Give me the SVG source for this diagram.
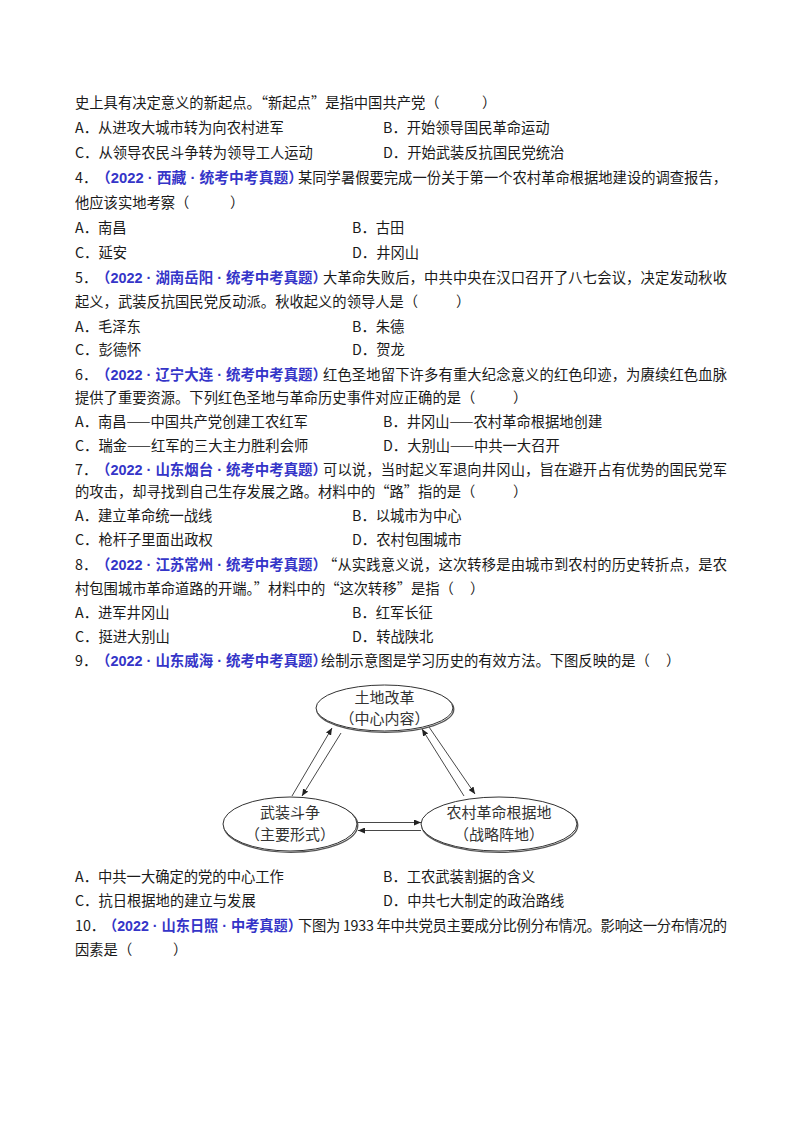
<svg xmlns="http://www.w3.org/2000/svg" width="800" height="1132" viewBox="0 0 800 1132">
<style>
.t{font-family:"Noto Sans CJK SC","Liberation Sans",sans-serif;font-size:14.3px;fill:#1a1a1a}
.b{font-family:"Liberation Sans","Noto Sans CJK SC",sans-serif;font-size:14.3px;font-weight:bold;fill:#3535c8}
.n{fill:#fff;stroke:#333;stroke-width:1}
.s{fill:none;stroke:#555;stroke-width:1.3}
.nt{font-family:"Noto Sans CJK SC",sans-serif;font-size:15px;fill:#333;text-anchor:middle}
.c{stroke:#333;stroke-width:0.9;fill:none;marker-end:url(#ah)}
</style>
<defs>
<marker id="ah" markerUnits="userSpaceOnUse" markerWidth="7" markerHeight="6" refX="7" refY="3" orient="auto">
<path d="M0,0 L7,3 L0,6 z" fill="#222"/>
</marker>
</defs>
<rect width="800" height="1132" fill="#fff"/>
<g id="text">
<text class="t" x="75" y="108">史上具有决定意义的新起点。“新起点”是指中国共产党（</text><text class="t" x="482" y="108">）</text>
<text class="t" x="75" y="133">A．从进攻大城市转为向农村进军</text><text class="t" x="383" y="133">B．开始领导国民革命运动</text>
<text class="t" x="75" y="158">C．从领导农民斗争转为领导工人运动</text><text class="t" x="383" y="158">D．开始武装反抗国民党统治</text>
<text class="t" x="75" y="183">4．</text><text class="b" x="96" y="183" textLength="207" lengthAdjust="spacingAndGlyphs">（2022 · 西藏 · 统考中考真题）</text><text class="t" x="298" y="183" textLength="429" lengthAdjust="spacing">某同学暑假要完成一份关于第一个农村革命根据地建设的调查报告，</text>
<text class="t" x="75" y="208">他应该实地考察（</text><text class="t" x="230" y="208">）</text>
<text class="t" x="75" y="233">A．南昌</text><text class="t" x="352" y="233">B．古田</text>
<text class="t" x="75" y="258">C．延安</text><text class="t" x="352" y="258">D．井冈山</text>
<text class="t" x="75" y="283">5．</text><text class="b" x="96" y="283" textLength="231" lengthAdjust="spacingAndGlyphs">（2022 · 湖南岳阳 · 统考中考真题）</text><text class="t" x="323" y="283" textLength="404" lengthAdjust="spacing">大革命失败后，中共中央在汉口召开了八七会议，决定发动秋收</text>
<text class="t" x="75" y="307">起义，武装反抗国民党反动派。秋收起义的领导人是（</text><text class="t" x="456" y="307">）</text>
<text class="t" x="75" y="332">A．毛泽东</text><text class="t" x="352" y="332">B．朱德</text>
<text class="t" x="75" y="355">C．彭德怀</text><text class="t" x="352" y="355">D．贺龙</text>
<text class="t" x="75" y="380">6．</text><text class="b" x="96" y="380" textLength="231" lengthAdjust="spacingAndGlyphs">（2022 · 辽宁大连 · 统考中考真题）</text><text class="t" x="323" y="380" textLength="404" lengthAdjust="spacing">红色圣地留下许多有重大纪念意义的红色印迹，为赓续红色血脉</text>
<text class="t" x="75" y="403">提供了重要资源。下列红色圣地与革命历史事件对应正确的是（</text><text class="t" x="513" y="403">）</text>
<text class="t" x="75" y="427">A．南昌——中国共产党创建工农红军</text><text class="t" x="383" y="427">B．井冈山——农村革命根据地创建</text>
<text class="t" x="75" y="451">C．瑞金——红军的三大主力胜利会师</text><text class="t" x="383" y="451">D．大别山——中共一大召开</text>
<text class="t" x="75" y="475">7．</text><text class="b" x="96" y="475" textLength="231" lengthAdjust="spacingAndGlyphs">（2022 · 山东烟台 · 统考中考真题）</text><text class="t" x="323" y="475" textLength="404" lengthAdjust="spacing">可以说，当时起义军退向井冈山，旨在避开占有优势的国民党军</text>
<text class="t" x="75" y="497">的攻击，却寻找到自己生存发展之路。材料中的“路”指的是（</text><text class="t" x="513" y="497">）</text>
<text class="t" x="75" y="521">A．建立革命统一战线</text><text class="t" x="352" y="521">B．以城市为中心</text>
<text class="t" x="75" y="545">C．枪杆子里面出政权</text><text class="t" x="352" y="545">D．农村包围城市</text>
<text class="t" x="75" y="570">8．</text><text class="b" x="96" y="570" textLength="231" lengthAdjust="spacingAndGlyphs">（2022 · 江苏常州 · 统考中考真题）</text><text class="t" x="323" y="570" textLength="404" lengthAdjust="spacing">“从实践意义说，这次转移是由城市到农村的历史转折点，是农</text>
<text class="t" x="75" y="594">村包围城市革命道路的开端。”材料中的“这次转移”是指（</text><text class="t" x="470" y="594">）</text>
<text class="t" x="75" y="618">A．进军井冈山</text><text class="t" x="352" y="618">B．红军长征</text>
<text class="t" x="75" y="642">C．挺进大别山</text><text class="t" x="352" y="642">D．转战陕北</text>
<text class="t" x="75" y="666">9．</text><text class="b" x="96" y="666" textLength="231" lengthAdjust="spacingAndGlyphs">（2022 · 山东威海 · 统考中考真题）</text><text class="t" x="321" y="666">绘制示意图是学习历史的有效方法。下图反映的是（</text><text class="t" x="666" y="666">）</text>
<text class="t" x="75" y="882">A．中共一大确定的党的中心工作</text><text class="t" x="383" y="882">B．工农武装割据的含义</text>
<text class="t" x="75" y="906">C．抗日根据地的建立与发展</text><text class="t" x="383" y="906">D．中共七大制定的政治路线</text>
<text class="t" x="75" y="931">10．</text><text class="b" x="103" y="931" textLength="199" lengthAdjust="spacingAndGlyphs">（2022 · 山东日照 · 中考真题）</text><text class="t" x="298" y="931" textLength="429" lengthAdjust="spacing">下图为 1933 年中共党员主要成分比例分布情况。影响这一分布情况的</text>
<text class="t" x="75" y="955">因素是（</text><text class="t" x="173" y="955">）</text>
</g>
<g id="connectors">
<line class="c" x1="292" y1="796" x2="332" y2="728"/>
<line class="c" x1="341" y1="733" x2="302" y2="796"/>
<line class="c" x1="464" y1="796" x2="422" y2="729"/>
<line class="c" x1="429" y1="727" x2="475" y2="794"/>
<line class="c" x1="357" y1="822.5" x2="421" y2="822.5"/>
<line class="c" x1="421" y1="830.5" x2="358" y2="830.5"/>
</g>
<g id="node-land">
<ellipse class="s" cx="385.3" cy="709.3" rx="68.5" ry="23"/>
<ellipse class="n" cx="384.5" cy="708" rx="68.5" ry="23"/>
<text class="nt" x="384.5" y="703">土地改革</text>
<text class="nt" x="384.5" y="724">（中心内容）</text>
</g>
<g id="node-armed">
<ellipse class="s" cx="290.8" cy="825.3" rx="67" ry="27"/>
<ellipse class="n" cx="290" cy="824" rx="67" ry="27"/>
<text class="nt" x="290" y="818">武装斗争</text>
<text class="nt" x="290" y="840">（主要形式）</text>
</g>
<g id="node-base">
<ellipse class="s" cx="499.8" cy="825.3" rx="78" ry="27"/>
<ellipse class="n" cx="499" cy="824" rx="78" ry="27"/>
<text class="nt" x="499" y="818">农村革命根据地</text>
<text class="nt" x="499" y="840">（战略阵地）</text>
</g>
</svg>
